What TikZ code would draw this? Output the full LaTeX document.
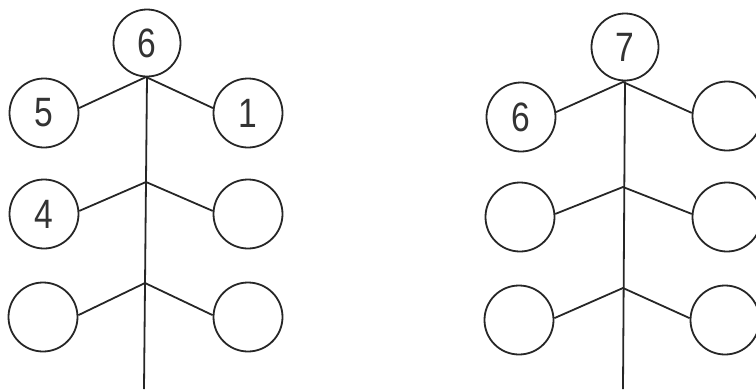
\documentclass[tikz,border=0pt]{standalone}
\usepackage{fontspec}
\setmainfont{Liberation Sans}
\tikzset{
  ball/.style={circle, draw=black!85, line width=1.8pt, minimum size=69pt, inner sep=0pt,
    font=\fontsize{41}{41}\selectfont, text=black!80},
  topball/.style={ball, minimum size=67pt},
  stem/.style={draw=black!85, line width=1.8pt}
}
\newcommand{\dg}[1]{\scalebox{0.82}[1]{#1}}
\begin{document}
\begin{tikzpicture}[x=1pt,y=-1pt]
\useasboundingbox (0,0) rectangle (756,389);
\clip (0,0) rectangle (756,389);
% left tree
\node[topball] (a0) at (147,43) {\dg{6}};
\node[ball] (a1l) at (44,113) {\dg{5}};
\node[ball] (a1r) at (248,113) {\dg{1}};
\node[ball] (a2l) at (44,214) {\dg{4}};
\node[ball] (a2r) at (248,214) {};
\node[ball] (a3l) at (43,317) {};
\node[ball] (a3r) at (248,317) {};
\coordinate (aj1) at (146,77);
\coordinate (aj2) at (146,182);
\coordinate (aj3) at (145,283);
\coordinate (aend) at (144,389);
\draw[stem] (a0.south) -- (aend);
\draw[stem] (a1l.8) -- (aj1) -- (a1r.172);
\draw[stem] (a2l.5) -- (aj2) -- (a2r.175);
\draw[stem] (a3l.3) -- (aj3) -- (a3r.177);
% right tree
\node[topball] (b0) at (625,47) {\dg{7}};
\node[ball] (b1l) at (521,117) {\dg{6}};
\node[ball] (b1r) at (727,116) {};
\node[ball] (b2l) at (520,217) {};
\node[ball] (b2r) at (727,217) {};
\node[ball] (b3l) at (519,320) {};
\node[ball] (b3r) at (725,320) {};
\coordinate (bj1) at (623,82);
\coordinate (bj2) at (623,187);
\coordinate (bj3) at (623,288);
\coordinate (bend) at (623,389);
\draw[stem] (b0.south) -- (bend);
\draw[stem] (b1l.8) -- (bj1) -- (b1r.175);
\draw[stem] (b2l.5) -- (bj2) -- (b2r.175);
\draw[stem] (b3l.3) -- (bj3) -- (b3r.177);
\end{tikzpicture}
\end{document}
